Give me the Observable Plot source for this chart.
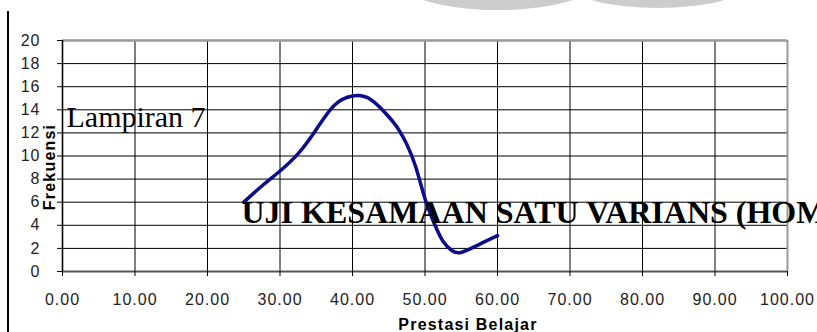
<!DOCTYPE html>
<html>
<head>
<meta charset="utf-8">
<script src="https://cdn.jsdelivr.net/npm/d3@7"></script>
<script src="https://cdn.jsdelivr.net/npm/@observablehq/plot@0.6"></script>
<style>
  html, body { margin: 0; padding: 0; background: #fff; overflow: hidden; width: 817px; height: 332px; }
  #wrap { position: relative; width: 817px; height: 332px; }
  .blob { position: absolute; background: #cccccc; border-radius: 50%; filter: blur(0.6px); }
  .vline { position: absolute; left: 7px; top: 11px; width: 2px; height: 321px; background: #000; }
</style>
</head>
<body>
<div id="wrap">
  <div class="blob" style="left:398px; top:-50px; width:200px; height:60px;"></div>
  <div class="blob" style="left:568px; top:-42px; width:180px; height:50px;"></div>
  <div class="vline"></div>
  <div id="chart"></div>
</div>
<script>
// Curve (Prestasi Belajar vs Frekuensi)
const curveX = [25, 27.5, 30, 32.5, 35, 37.5, 40, 42.5, 45, 46.25, 47.5, 48.75, 50, 51.25, 52.5, 53.75, 55, 57.5, 60];
const curveY = [6.0, 7.4, 8.7, 10.2, 12.3, 14.4, 15.2, 14.9, 13.4, 12.4, 11.0, 9.0, 6.3, 4.2, 2.6, 1.8, 1.65, 2.35, 3.1];

const xTicks = [0, 10, 20, 30, 40, 50, 60, 70, 80, 90, 100];
const yTicks = [0, 2, 4, 6, 8, 10, 12, 14, 16, 18, 20];

const xTitle = "Prestasi Belajar";
const yTitle = "Frekuensi";
const overlay1 = "Lampiran 7";
const overlay2 = "UJI KESAMAAN SATU VARIANS (HOM";

const curve = curveX.map((x, i) => ({x, y: curveY[i]}));

const sans = "Liberation Sans, Arial, Helvetica, sans-serif";
const serif = "Liberation Serif, Times New Roman, serif";

const chart = Plot.plot({
  width: 817,
  height: 332,
  marginLeft: 62,
  marginRight: 30,
  marginTop: 40,
  marginBottom: 61,
  style: {background: "transparent", fontFamily: sans, overflow: "visible"},
  x: {domain: [0, 100]},
  y: {domain: [0, 20]},
  marks: [
    Plot.ruleY(yTicks.filter(d => d > 0 && d < 20), {y: d => d, stroke: "#000", strokeWidth: 1}),
    Plot.ruleX(xTicks.filter(d => d > 0 && d < 100), {x: d => d, stroke: "#000", strokeWidth: 1}),
    Plot.ruleY([20], {y: d => d, stroke: "#9a9a9a", strokeWidth: 2.5}),
    Plot.ruleX([100], {x: d => d, stroke: "#9a9a9a", strokeWidth: 2}),
    Plot.ruleY([0], {y: d => d, stroke: "#555", strokeWidth: 2}),
    Plot.ruleX([0], {x: d => d, stroke: "#000", strokeWidth: 1.6}),
    Plot.axisY({ticks: yTicks, tickSize: 5, tickPadding: 17, tickFormat: d => String(d),
      fontSize: 16, fontFamily: sans, fill: "#222", stroke: "#000", label: null}),
    Plot.axisX({ticks: xTicks, tickSize: 5, tickPadding: 17, tickFormat: d3.format(".2f"),
      fontSize: 16, fontFamily: sans, fill: "#222", stroke: "#000", label: null}),
    Plot.line(curve, {x: "x", y: "y", curve: "natural", stroke: "#0c0c8c", strokeWidth: 3.5,
      strokeLinecap: "round", strokeLinejoin: "round"}),
    Plot.text([overlay1], {text: d => d, frameAnchor: "top-left", dx: 4, dy: 65,
      textAnchor: "start", lineAnchor: "top", fontSize: 30, fontFamily: serif, fill: "#000"}),
    Plot.text([overlay2], {text: d => d, frameAnchor: "top-left", dx: 179, dy: 160,
      textAnchor: "start", lineAnchor: "top", fontSize: 32, fontWeight: "bold", fontFamily: serif, fill: "#000"}),
    Plot.text([yTitle], {text: d => d, frameAnchor: "left", dx: -13, dy: 11, rotate: -90,
      textAnchor: "middle", lineAnchor: "middle",
      fontSize: 16, fontWeight: "bold", fontFamily: sans, fill: "#000"}),
    Plot.text([xTitle], {text: d => d, frameAnchor: "bottom", dx: 43, dy: 53,
      textAnchor: "middle", lineAnchor: "middle",
      fontSize: 16, fontWeight: "bold", fontFamily: sans, fill: "#000"})
  ]
});
d3.select(chart).selectAll("text")
  .filter(function() { return this.textContent === xTitle || this.textContent === yTitle; })
  .attr("letter-spacing", "1.2px");
d3.select(chart).selectAll("text")
  .filter(function() { return /^\d+(\.\d+)?$/.test(this.textContent); })
  .attr("letter-spacing", "1px");
document.getElementById("chart").appendChild(chart);
</script>
</body>
</html>
